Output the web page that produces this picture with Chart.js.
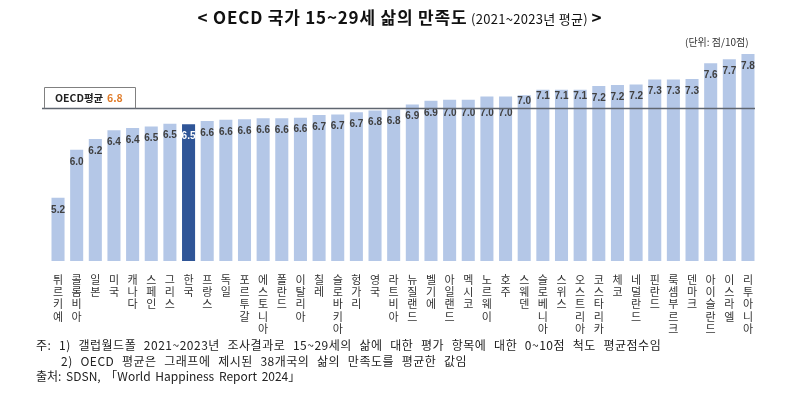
<!DOCTYPE html>
<html>
<head>
<meta charset="utf-8">
<script src="https://cdn.jsdelivr.net/npm/chart.js@4"></script>
<style>
  html, body { margin: 0; padding: 0; background: #fff; }
  #wrap { position: relative; width: 800px; height: 399px; overflow: hidden; }
  #chart { position: absolute; left: 0; top: 0; }
  .title { position: absolute; top: 4px; left: 0; width: 800px; text-align: center;
           font-family: "Noto Sans CJK KR", sans-serif; color: #111; white-space: nowrap; }
  .title b { font-size: 17px; font-weight: 700; letter-spacing: 0.8px; }
  .title span { font-size: 13px; letter-spacing: 0.3px; }
  .unit { position: absolute; top: 34px; left: 685px; font-family: "Noto Sans CJK KR", sans-serif;
          font-size: 10px; color: #333; }
  .note { position: absolute; left: 36px; font-family: "Noto Sans CJK KR", sans-serif;
          font-size: 12px; color: #222; white-space: nowrap; letter-spacing: 0.5px; word-spacing: 4.5px; }
</style>
</head>
<body>
<div id="wrap">
  <canvas id="chart" width="800" height="399"></canvas>
  <div class="title"><b>&lt; OECD 국가 15~29세 삶의 만족도</b> <span>(2021~2023년 평균)</span> <b>&gt;</b></div>
  <div class="unit">(단위: 점/10점)</div>
  <div class="note" style="top:336px">주: 1) 갤럽월드폴 2021~2023년 조사결과로 15~29세의 삶에 대한 평가 항목에 대한 0~10점 척도 평균점수임</div>
  <div class="note" style="top:352px; left:61px">2) OECD 평균은 그래프에 제시된 38개국의 삶의 만족도를 평균한 값임</div>
  <div class="note" style="top:367px; letter-spacing:0; word-spacing:2px">출처: SDSN, 「World Happiness Report 2024」</div>
</div>
<script>
const countries = ["튀르키예", "콜롬비아", "일본", "미국", "캐나다", "스페인", "그리스", "한국",
    "프랑스", "독일", "포르투갈", "에스토니아", "폴란드", "이탈리아", "칠레", "슬로바키아",
    "헝가리", "영국", "라트비아", "뉴질랜드", "벨기에", "아일랜드", "멕시코", "노르웨이",
    "호주", "스웨덴", "슬로베니아", "스위스", "오스트리아", "코스타리카", "체코", "네덜란드",
    "핀란드", "룩셈부르크", "덴마크", "아이슬란드", "이스라엘", "리투아니아"];
const scores = [5.16, 6.04, 6.24, 6.40, 6.44, 6.47, 6.52, 6.51,
    6.57, 6.59, 6.60, 6.62, 6.62, 6.63, 6.68, 6.69,
    6.73, 6.76, 6.78, 6.87, 6.94, 6.96, 6.96, 7.02,
    7.02, 7.04, 7.14, 7.14, 7.14, 7.21, 7.23, 7.24,
    7.33, 7.33, 7.34, 7.63, 7.70, 7.80];
const oecdAvg = 6.8;
const highlight = "한국";

const barColors = countries.map(c => c === highlight ? "#2F5597" : "#B4C7E7");

// average line + box + value labels
const overlay = {
    id: "overlay",
    afterDatasetsDraw(chart) {
        const ctx = chart.ctx;
        const y = chart.scales.y.getPixelForValue(oecdAvg);
        const meta = chart.getDatasetMeta(0);

        ctx.save();
        ctx.font = "bold 10px 'Liberation Sans', sans-serif";
        ctx.textAlign = "center";
        ctx.textBaseline = "middle";
        meta.data.forEach((bar, i) => {
            let ly = bar.y + 12;
            if (Math.abs(ly - y) < 7) {
                ly = bar.y + 6;
                if (ly + 5 > y - 1) ly = y + 5;
            }
            ctx.fillStyle = countries[i] === highlight ? "#ffffff" : "#404040";
            ctx.fillText(scores[i].toFixed(1), bar.x, ly);
        });

        ctx.strokeStyle = "#5f6670";
        ctx.lineWidth = 1.5;
        ctx.beginPath();
        ctx.moveTo(42, y);
        ctx.lineTo(755, y);
        ctx.stroke();

        ctx.strokeStyle = "#808080";
        ctx.lineWidth = 1;
        ctx.beginPath();
        ctx.moveTo(44.5, y);
        ctx.lineTo(44.5, 87.5);
        ctx.lineTo(135.5, 87.5);
        ctx.lineTo(135.5, y);
        ctx.stroke();

        ctx.textAlign = "left";
        ctx.font = "bold 10.5px 'Noto Sans CJK KR', sans-serif";
        ctx.fillStyle = "#222";
        ctx.fillText("OECD평균", 55, 98);
        ctx.fillStyle = "#E07B28";
        ctx.fillText(oecdAvg.toFixed(1), 107, 98);
        ctx.restore();
    }
};

new Chart(document.getElementById("chart"), {
    type: "bar",
    data: {
        labels: countries.map(c => c.split("")),
        datasets: [{
            data: scores,
            backgroundColor: barColors,
            barPercentage: 0.7,
            categoryPercentage: 1.0
        }]
    },
    options: {
        responsive: false,
        animation: false,
        layout: { padding: { top: 43, left: 48.7, right: 42.7, bottom: 0 } },
        plugins: { legend: { display: false }, tooltip: { enabled: false } },
        scales: {
            y: { display: false, min: 4, max: 8 },
            x: {
                grid: { display: false },
                border: { display: false },
                ticks: {
                    autoSkip: false, maxRotation: 0, padding: 5,
                    color: "#333",
                    font: { family: "'Noto Sans CJK KR', sans-serif", size: 11, lineHeight: 1.1 }
                },
                afterFit(scale) { scale.height = 138; }
            }
        }
    },
    plugins: [overlay]
});
</script>
</body>
</html>
